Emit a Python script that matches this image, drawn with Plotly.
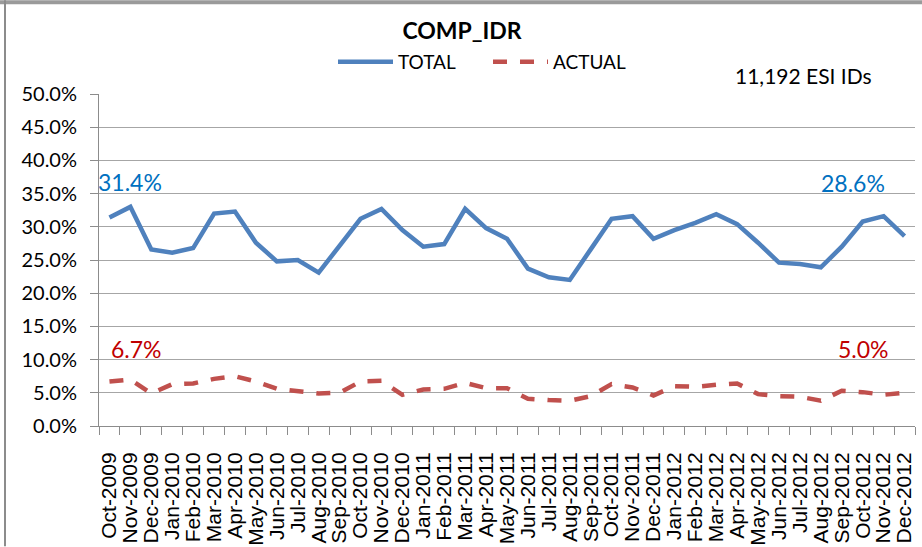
import plotly.graph_objects as go

categories = [
    "Oct-2009", "Nov-2009", "Dec-2009",
    "Jan-2010", "Feb-2010", "Mar-2010", "Apr-2010", "May-2010", "Jun-2010",
    "Jul-2010", "Aug-2010", "Sep-2010", "Oct-2010", "Nov-2010", "Dec-2010",
    "Jan-2011", "Feb-2011", "Mar-2011", "Apr-2011", "May-2011", "Jun-2011",
    "Jul-2011", "Aug-2011", "Sep-2011", "Oct-2011", "Nov-2011", "Dec-2011",
    "Jan-2012", "Feb-2012", "Mar-2012", "Apr-2012", "May-2012", "Jun-2012",
    "Jul-2012", "Aug-2012", "Sep-2012", "Oct-2012", "Nov-2012", "Dec-2012",
]

total = [31.4, 33.0, 26.6,
         26.1, 26.8, 32.0, 32.3, 27.6, 24.8, 25.0, 23.1, 27.2, 31.2, 32.7, 29.5,
         27.0, 27.4, 32.7, 29.8, 28.2, 23.7, 22.4, 22.0, 26.6, 31.2, 31.6, 28.2,
         29.5, 30.6, 31.9, 30.4, 27.6, 24.6, 24.4, 23.9, 27.0, 30.8, 31.6, 28.6]

actual = [6.7, 7.0, 4.9,
          6.3, 6.4, 7.1, 7.5, 6.7, 5.6, 5.3, 4.9, 5.0, 6.7, 6.8, 4.7,
          5.5, 5.6, 6.5, 5.7, 5.7, 4.1, 3.9, 3.8, 4.5, 6.3, 5.8, 4.6,
          6.0, 5.9, 6.2, 6.4, 4.8, 4.5, 4.4, 3.8, 5.3, 5.1, 4.7, 5.0]

y_ticks = [0, 5, 10, 15, 20, 25, 30, 35, 40, 45, 50]
y_tick_labels = [f"{v:.1f}%" for v in y_ticks]
chart_title = "COMP_IDR"
note_text = "11,192 ESI IDs"

CAL = "Lato, 'Noto Sans', sans-serif"
ARI = "'Liberation Sans', Arial, sans-serif"

fig = go.Figure()
fig.add_trace(go.Scatter(
    x=categories, y=total, name="TOTAL", mode="lines",
    line=dict(color="#4F81BD", width=4.5),
))
fig.add_trace(go.Scatter(
    x=categories, y=actual, name="ACTUAL", mode="lines",
    line=dict(color="#C0504D", width=4.5, dash="14px,13px"),
))

# plot area: x 99..915, y 94..426.5 in a 922x547 page
W, H = 922, 547
L, R, T, B = 99, 915, 94, 426.5
pw, ph = R - L, B - T


def px(x):
    return (x - L) / pw


def py(y):
    return (B - y) / ph


annotations = [
    dict(text=f"{total[0]:.1f}%", x=px(130), y=py(182), font=dict(color="#0070C0", size=23)),
    dict(text=f"{total[-1]:.1f}%", x=px(853), y=py(183), font=dict(color="#0070C0", size=23)),
    dict(text=f"{actual[0]:.1f}%", x=px(136), y=py(349), font=dict(color="#C00000", size=23)),
    dict(text=f"{actual[-1]:.1f}%", x=px(863), y=py(349), font=dict(color="#C00000", size=23)),
    dict(text=note_text, x=px(803), y=py(75), font=dict(color="#000000", size=21)),
]
for a in annotations:
    a.update(xref="paper", yref="paper", showarrow=False, xanchor="center", yanchor="middle")
    a["font"]["family"] = CAL

shapes = [
    # outer frame fragments (top and left)
    dict(type="rect", xref="paper", yref="paper", x0=px(0), x1=px(W), y0=py(0), y1=py(4),
         line=dict(width=0), fillcolor="#9A9A9A", layer="above"),
    dict(type="line", xref="paper", yref="paper", x0=px(5), x1=px(5), y0=py(0), y1=py(H),
         line=dict(color="#8C8C8C", width=2)),
]

fig.update_layout(
    width=W, height=H,
    margin=dict(l=L, r=W - R, t=T, b=H - B, autoexpand=False),
    paper_bgcolor="white", plot_bgcolor="white",
    title=dict(text=f"<b>{chart_title}</b>", x=462 / W, xanchor="center",
               y=1 - 31 / H, yanchor="middle", yref="container",
               font=dict(family=CAL, size=23, color="#000000")),
    showlegend=True,
    legend=dict(orientation="h", x=333 / W, y=1 - 62 / H, xanchor="left", yanchor="middle",
                xref="container", yref="container",
                font=dict(family=CAL, size=19, color="#000000"),
                itemwidth=55, bgcolor="rgba(0,0,0,0)", tracegroupgap=0,
                entrywidth=85),
    annotations=annotations,
    shapes=shapes,
    xaxis=dict(
        type="category", range=[-0.5, len(categories) - 0.5], automargin=False,
        tickmode="array", tickvals=categories, ticktext=categories,
        tickangle=-90, tickson="boundaries", ticks="outside", ticklen=8,
        ticklabelstandoff=17,
        tickcolor="#8C8C8C", showline=True, linecolor="#8C8C8C", linewidth=1,
        showgrid=False, tickfont=dict(family=ARI, size=21, color="#000000"),
    ),
    yaxis=dict(
        range=[0, 50], tickmode="array", tickvals=y_ticks, ticktext=y_tick_labels,
        automargin=False,
        ticks="outside", ticklen=8, tickcolor="#8C8C8C", ticklabelstandoff=9,
        showline=True, linecolor="#8C8C8C", linewidth=1,
        showgrid=True, gridcolor="#A6A6A6", gridwidth=1, zeroline=False,
        tickfont=dict(family=CAL, size=20, color="#000000"),
    ),
)

fig.write_html("out.html", config={"displayModeBar": False},
               post_script="document.body.style.margin='0';")
